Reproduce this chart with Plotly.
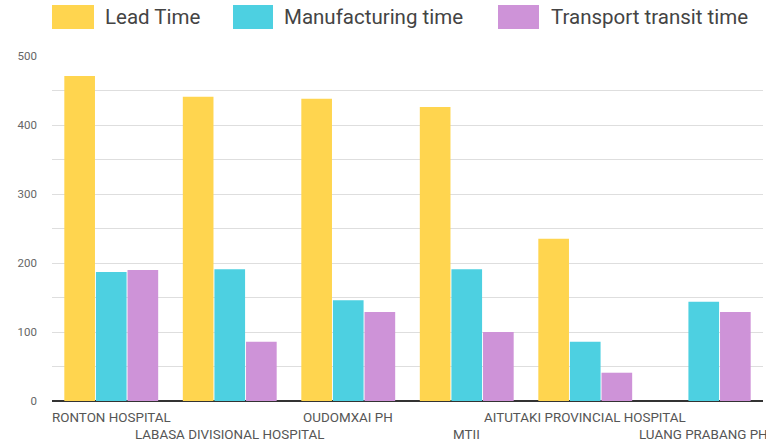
import plotly.graph_objects as go

categories = ["RONTON HOSPITAL", "LABASA DIVISIONAL HOSPITAL", "OUDOMXAI PH", "MTII",
              "AITUTAKI PROVINCIAL HOSPITAL", "LUANG PRABANG PH"]
lead_time = [471, 441, 438, 426, 235, None]
manufacturing_time = [187, 191, 146, 191, 86, 144]
transport_time = [190, 86, 129, 100, 41, 129]
series_names = ["Lead Time", "Manufacturing time", "Transport transit time"]
colors = ["#FFD54F", "#4DD0E1", "#CE93D8"]
y_tickvals = [0, 100, 200, 300, 400, 500]

W, H = 766, 444
L, R, T, B = 52, 3, 56, 43
pw, ph = W - L - R, H - T - B

def px(x):
    return (x - L) / pw

def py(y):
    return (H - B - y) / ph

fig = go.Figure()
for name, vals, c in zip(series_names, [lead_time, manufacturing_time, transport_time], colors):
    fig.add_trace(go.Bar(x=categories, y=vals, name=name, marker=dict(color=c, line=dict(width=0)),
                         showlegend=False))

shapes = []
annotations = []
sw = [(52, 94, 103), (233, 273, 282), (498, 539, 549)]
for (x0, x1, tx), name, c in zip(sw, series_names, colors):
    shapes.append(dict(type="rect", xref="paper", yref="paper", x0=px(x0), x1=px(x1),
                       y0=py(29), y1=py(5), fillcolor=c, line=dict(width=0)))
    annotations.append(dict(xref="paper", yref="paper", x=px(tx), y=py(17), xanchor="left",
                            yanchor="middle", text=name, showarrow=False,
                            font=dict(family="Roboto", size=20.5, color="#444444")))

for i, cat in enumerate(categories):
    annotations.append(dict(xref="x", yref="y", x=cat, y=0, xanchor="center", yanchor="top",
                            yshift=-8 if i % 2 == 0 else -25, text=cat, showarrow=False,
                            borderpad=0,
                            font=dict(family="Roboto", size=13.4, color="#555555")))

fig.update_layout(
    width=W, height=H, margin=dict(l=L, r=R, t=T, b=B, pad=0),
    paper_bgcolor="white", plot_bgcolor="white",
    barmode="group", bargap=0.2, bargroupgap=0.03,
    shapes=shapes, annotations=annotations,
    xaxis=dict(range=[-0.5, len(categories) - 0.5], autorange=False, showticklabels=False,
               showgrid=False, ticks="", showline=False, zeroline=False),
    yaxis=dict(range=[0, 500], autorange=False, tickvals=y_tickvals, showgrid=True,
               gridcolor="#dedede", gridwidth=1, zeroline=True, zerolinecolor="#333333",
               zerolinewidth=1.5, ticks="", ticklabelstandoff=14,
               tickfont=dict(family="Roboto", size=11.5, color="#666666"),
               minor=dict(dtick=50, showgrid=True, gridcolor="#dedede", gridwidth=1)),
)
fig.write_html("out.html")
